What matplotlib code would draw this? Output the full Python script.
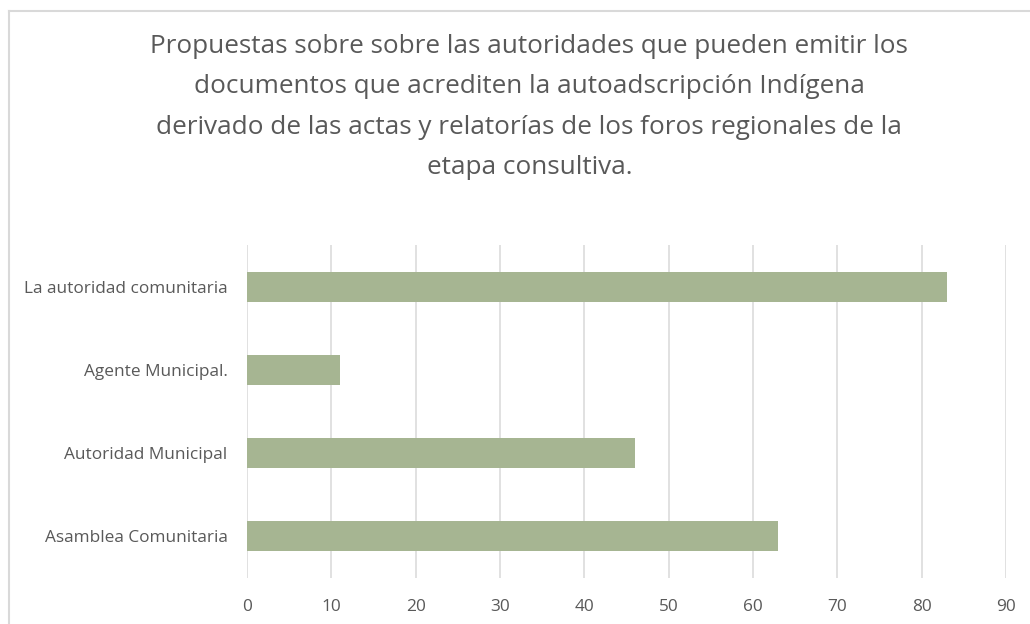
import matplotlib.pyplot as plt
from matplotlib.lines import Line2D

categories = ['Asamblea Comunitaria', 'Autoridad Municipal', 'Agente Municipal.', 'La autoridad comunitaria']
values = [63, 46, 11, 83]
xticks = [0, 10, 20, 30, 40, 50, 60, 70, 80, 90]
title = ('Propuestas sobre sobre las autoridades que pueden emitir los\n'
         'documentos que acrediten la autoadscripción Indígena\n'
         'derivado de las actas y relatorías de los foros regionales de la\n'
         'etapa consultiva.')

plt.rcParams['font.family'] = ['Open Sans', 'DejaVu Sans']
gray = '#595959'

fig = plt.figure(figsize=(10.3, 6.24), dpi=100)
ax = fig.add_axes([247 / 1030, 1 - 578 / 624, (1006 - 247) / 1030, (578 - 245) / 624])

ax.barh(range(len(categories)), values, height=0.36, color='#a6b592', zorder=3)
ax.set_ylim(-0.5, len(categories) - 0.5)
ax.set_xlim(0, 90)
ax.set_xticks(xticks)
ax.set_yticks(range(len(categories)))
ax.set_yticklabels(categories)
ax.tick_params(axis='both', length=0, labelsize=12.4, colors=gray)
ax.tick_params(axis='y', pad=14)
ax.tick_params(axis='x', pad=15)
ax.grid(axis='x', color='#d9d9d9', linewidth=1.1, zorder=0)
for s in ax.spines.values():
    s.set_visible(False)

fig.text(0.514, 1 - 107 / 624, title, ha='center', va='center', fontsize=18.8,
         color=gray, linespacing=1.79)

# chart border (only top/left visible in the crop)
fig.add_artist(Line2D([8.5 / 1030, 1], [1 - 10.5 / 624] * 2, color='#d9d9d9', lw=1.5))
fig.add_artist(Line2D([8.5 / 1030] * 2, [0, 1 - 10.5 / 624], color='#d9d9d9', lw=1.5))

fig.savefig('out.png', dpi=100)
